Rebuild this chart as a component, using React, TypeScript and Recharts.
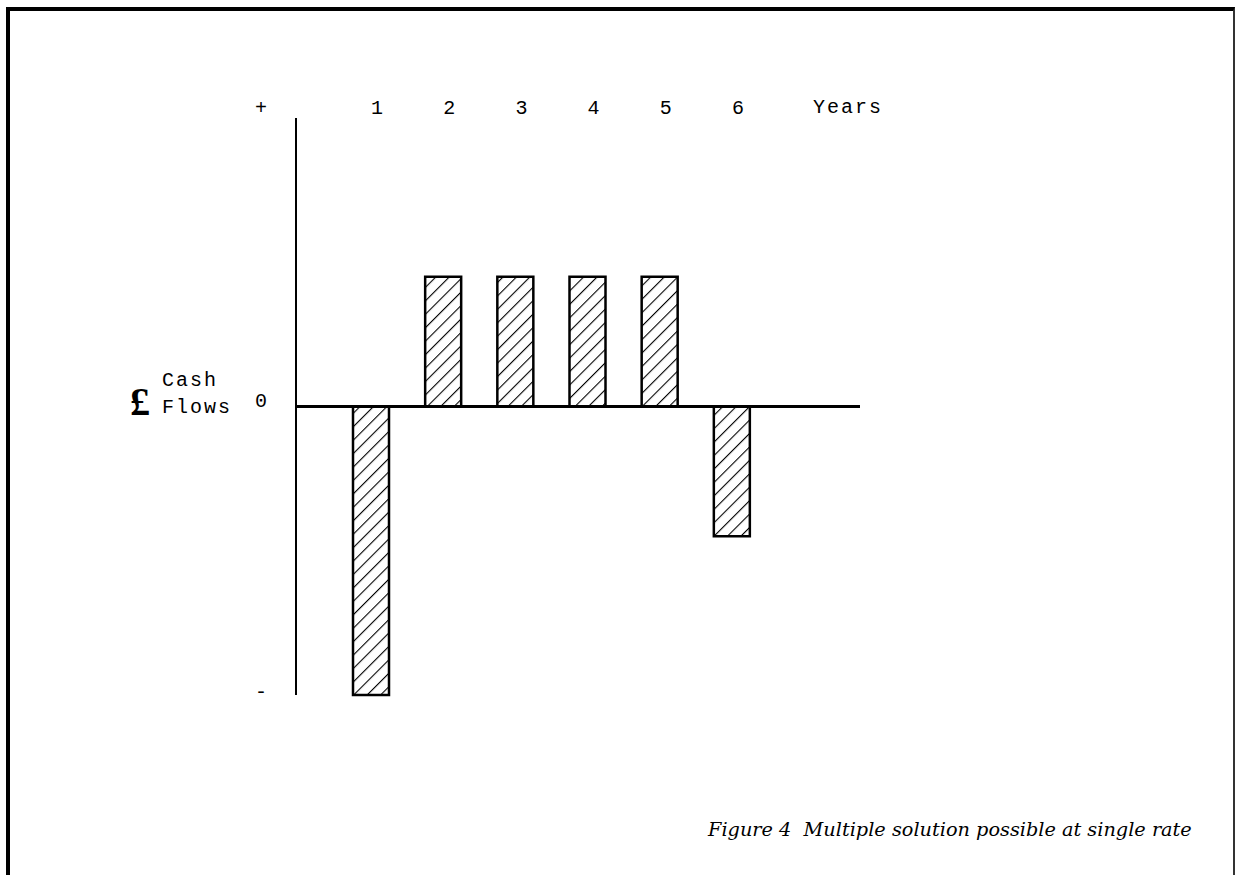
import { BarChart, Bar, XAxis, YAxis, ReferenceLine } from 'recharts';

// cash flow per year (arbitrary units, + inflow / - outflow)
const years = ['1', '2', '3', '4', '5', '6'];
const cashFlows = [-10, 4.5, 4.5, 4.5, 4.5, -4.5];

const yTickValues = [10, 0, -10];
const yTickLabels = ['+', '0', '-'];

const data = years.map((year, i) => ({ year, flow: cashFlows[i] }));

const typeFont = '"Liberation Mono", "DejaVu Sans Mono", monospace';

function YearTick(props: any) {
  const { x, payload } = props;
  return (
    <text x={x + 6} y={114} textAnchor="middle" fontFamily={typeFont} fontSize={20} fill="#000">
      {payload.value}
    </text>
  );
}

function SignTick(props: any) {
  const { y, payload } = props;
  const idx = yTickValues.indexOf(payload.value);
  const shift = payload.value > 0 ? -4 : payload.value < 0 ? 3 : 0;
  return (
    <text x={261} y={y + shift} textAnchor="middle" fontFamily={typeFont} fontSize={20} fill="#000">
      {yTickLabels[idx]}
    </text>
  );
}

export default function App() {
  return (
    <div style={{ position: 'absolute', left: 0, top: 0, width: 1235, height: 875, overflow: 'hidden', background: '#fff' }}>
      <div
        style={{
          position: 'absolute',
          left: 6,
          top: 7,
          width: 1223,
          height: 900,
          borderLeft: '4px solid #000',
          borderTop: '4px solid #000',
          borderRight: '2px solid #333',
        }}
      />
      <BarChart width={1235} height={875} data={data} margin={{ top: 88, right: 375, bottom: 180, left: 236 }}>
        <defs>
          <pattern id="hatch" patternUnits="userSpaceOnUse" width={9.5} height={9.5} patternTransform="rotate(45)">
            <rect width={9.5} height={9.5} fill="#fff" />
            <line x1={0} y1={0} x2={0} y2={9.5} stroke="#000" strokeWidth={2.2} />
          </pattern>
        </defs>
        <XAxis
          dataKey="year"
          orientation="top"
          height={30}
          axisLine={false}
          tickLine={false}
          padding={{ left: 39, right: 92 }}
          tick={<YearTick />}
          interval={0}
        />
        <YAxis
          width={60}
          domain={[-10, 10]}
          ticks={yTickValues}
          axisLine={{ stroke: '#000', strokeWidth: 2 }}
          tickLine={false}
          tick={<SignTick />}
        />
        <ReferenceLine y={0} stroke="#000" strokeWidth={3} />
        <Bar dataKey="flow" barSize={36} fill="url(#hatch)" stroke="#000" strokeWidth={2.5} isAnimationActive={false} />
      </BarChart>
      <div style={{ position: 'absolute', left: 813, top: 98, fontFamily: typeFont, fontSize: 20, letterSpacing: 2, lineHeight: '20px', color: '#000' }}>
        Years
      </div>
      <div style={{ position: 'absolute', left: 130, top: 382, fontFamily: '"Liberation Serif", serif', fontSize: 40, fontWeight: 'bold', lineHeight: '40px', color: '#000' }}>
        £
      </div>
      <div style={{ position: 'absolute', left: 162, top: 367, fontFamily: typeFont, fontSize: 20, letterSpacing: 2, lineHeight: '27px', color: '#000' }}>
        Cash
        <br />
        Flows
      </div>
      <div style={{ position: 'absolute', left: 708, top: 818, fontFamily: '"DejaVu Serif", serif', fontStyle: 'italic', fontSize: 19.3, lineHeight: '24px', color: '#000', whiteSpace: 'nowrap' }}>
        Figure 4&nbsp;&nbsp;Multiple solution possible at single rate
      </div>
    </div>
  );
}
